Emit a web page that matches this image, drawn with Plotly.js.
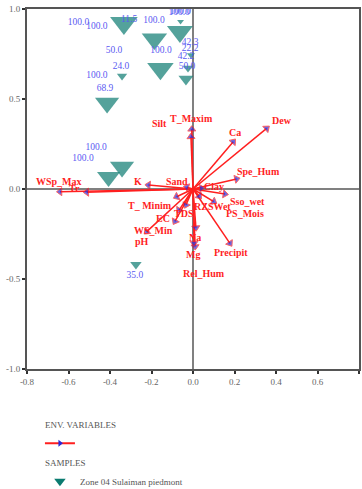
<!DOCTYPE html>
<html><head><meta charset="utf-8">
<script src="https://cdn.plot.ly/plotly-3.0.1.min.js"></script>
<style>html,body{margin:0;padding:0;background:#fff}</style>
</head><body><div id="chart" style="width:362px;height:489px"></div>
<script>
// ---- data ----
const varNames = ["WSp_Max","Tr","K","Sand","Silt","T_Maxim","Ca","Dew","Spe_Hum","Clay","Sso_wet","PS_Mois","RZSWet","TDS","EC","T_ Minim","WS_Min","pH","Na","Mg","Rel_Hum","Precipit"];
const varX = [-0.641,-0.512,-0.215,-0.030,-0.010,-0.006,0.194,0.355,0.210,0.040,0.154,0.100,0.030,-0.034,-0.067,-0.079,-0.087,-0.223,0.014,0.010,0.005,0.178];
const varY = [-0.015,-0.018,0.022,0.010,0.290,0.332,0.263,0.337,0.056,0.005,-0.028,-0.070,-0.040,-0.089,-0.117,-0.043,-0.180,-0.237,-0.215,-0.320,-0.300,-0.302];

const sampleX = [-0.333,-0.186,-0.063,-0.060,-0.157,-0.342,-0.414,-0.010,-0.024,-0.034,-0.342,-0.407,-0.275];
const sampleY = [0.922,0.833,0.874,0.930,0.668,0.628,0.478,0.744,0.672,0.611,0.122,0.067,-0.420];
const sampleWeight = [24,22,22.5,6,23,9,21,7,9,13,21,20,10];

const sampleLabels = ["100.0","100.0","11.5","100.0","100.0","100.0","50.0","100.0","24.0","100.0","68.9","42.3","22.2","42.2","50.0","100.0","100.0","35.0"];
const sampleLabelX = [-0.552,-0.463,-0.308,-0.188,-0.067,-0.061,-0.381,-0.154,-0.347,-0.463,-0.424,-0.014,-0.014,-0.034,-0.029,-0.467,-0.530,-0.280];
const sampleLabelY = [0.924,0.900,0.939,0.933,0.978,0.983,0.767,0.767,0.678,0.628,0.556,0.811,0.778,0.733,0.678,0.228,0.167,-0.483];

const xTicks = [-0.8,-0.6,-0.4,-0.2,0.0,0.2,0.4,0.6,0.8];
const yTicks = [-1.0,-0.5,0.0,0.5,1.0];

// ---- layout-only label offsets (px) ----
const varLabelShift = [[-1,-10],[-12,-4],[-10,-4],[-10,-6],[-31,-13],[0,-11],[2,-9],[15,-8],[22,-7],[13,-2],[23,7],[31,12],[13,10],[-2,8],[-16,8],[-27,9],[-21,9],[-5,10],[-1,10],[-2,8],[10,30],[1,9]];

const serif = "Liberation Serif, Times New Roman, serif";

const ax = [], ay = [], asz = [];
varNames.forEach((n,i)=>{ ax.push(0,varX[i],null); ay.push(0,varY[i],null); asz.push(0,7,0); });

const traces = [
  { type:'scatter', mode:'markers', x:sampleX, y:sampleY, showlegend:false, hoverinfo:'skip',
    marker:{symbol:'triangle-down', size:sampleWeight, color:'#0b7b70', line:{width:0}} },
  { type:'scatter', mode:'text', x:sampleLabelX, y:sampleLabelY, text:sampleLabels, showlegend:false, hoverinfo:'skip',
    textposition:'middle center', textfont:{family:serif, size:9.5, color:'#5b5bf2'} },
  { type:'scatter', mode:'lines+markers', x:ax, y:ay, showlegend:false, hoverinfo:'skip',
    line:{color:'#ff1f1f', width:1.5},
    marker:{symbol:'triangle-up', size:asz, angleref:'previous', color:'#2a2ad8', line:{color:'#ff1f1f', width:1}} },
  { type:'scatter', mode:'lines+markers', x:[null], y:[null], name:' ', legendgroup:'env',
    legendgrouptitle:{text:'ENV. VARIABLES', font:{family:serif, size:9, color:'#555'}},
    line:{color:'#ff1f1f', width:2}, marker:{symbol:'triangle-right', size:6, color:'#2a2ad8'} },
  { type:'scatter', mode:'markers', x:[null], y:[null], name:'Zone 04 Sulaiman piedmont', legendgroup:'samp',
    legendgrouptitle:{text:'SAMPLES', font:{family:serif, size:9, color:'#555'}},
    marker:{symbol:'triangle-down', size:10, color:'#0b7b70'} }
];

const annotations = varNames.map((n,i)=>({
  x:varX[i], y:varY[i], xref:'x', yref:'y', text:n, showarrow:false,
  xshift:varLabelShift[i][0], yshift:-varLabelShift[i][1],
  font:{family:serif, size:10, color:'#ff1f1f', weight:'bold'}
}));

const axisCommon = {
  showgrid:false, showline:true, mirror:true, linewidth:2, linecolor:'#555',
  ticks:'outside', ticklen:3, tickwidth:2, tickcolor:'#333',
  zeroline:true, zerolinecolor:'#808080', zerolinewidth:1.5,
  tickfont:{family:serif, size:9, color:'#666'}, fixedrange:true, automargin:false
};

const layout = {
  width:362, height:489,
  margin:{l:27, r:3, t:9, b:120, pad:0, autoexpand:false},
  paper_bgcolor:'#fff', plot_bgcolor:'#fff',
  xaxis:Object.assign({}, axisCommon, {range:[-0.8,0.8], tickmode:'array', tickvals:xTicks, ticktext:xTicks.map(v=>v.toFixed(1))}),
  yaxis:Object.assign({}, axisCommon, {range:[-1,1], tickmode:'array', tickvals:yTicks, ticktext:yTicks.map(v=>v.toFixed(1))}),
  annotations:annotations,
  showlegend:true,
  legend:{x:0.039, y:-0.113, xanchor:'left', yanchor:'top', traceorder:'grouped', tracegroupgap:0,
    font:{family:serif, size:9, color:'#555'}, bgcolor:'rgba(0,0,0,0)', itemwidth:30}
};

Plotly.newPlot('chart', traces, layout, {displayModeBar:false, staticPlot:true});
</script></body></html>
